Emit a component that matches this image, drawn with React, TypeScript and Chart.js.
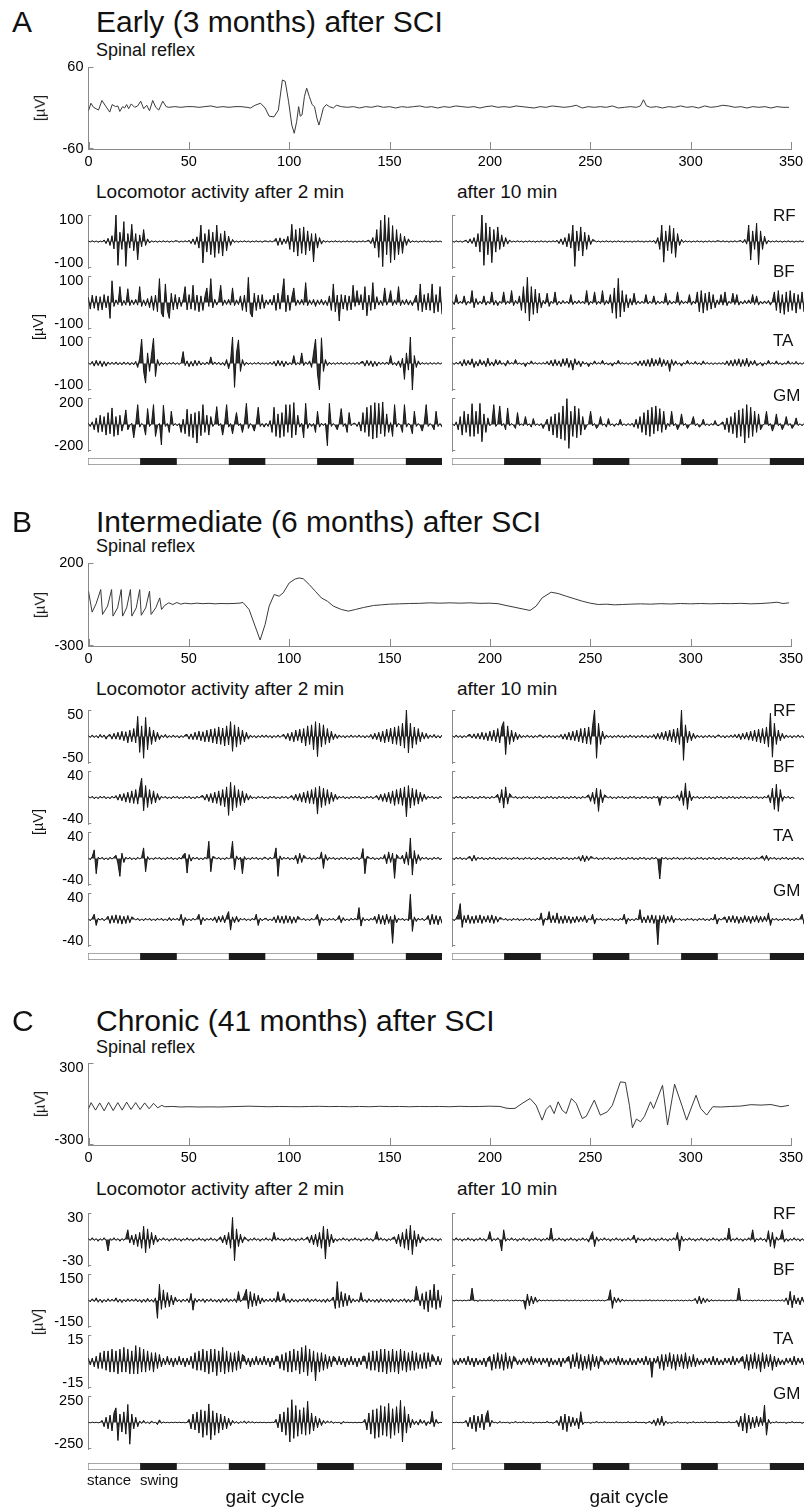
import React, { useEffect, useRef } from "react";
import { Chart, registerables } from "chart.js";

Chart.register(...registerables);

const FONT = "'Liberation Sans', Arial, Helvetica, sans-serif";
const AXIS = "#8a8a8a";

// ---------------- Spinal reflex traces: [time ms, µV] ----------------
const X_TICKS = [0, 50, 100, 150, 200, 250, 300, 350];

const REFLEX_A = [
  [0, -4], [1.2, 7], [2.5, 1], [5, -3], [6.7, 11], [8.5, 3], [10.6, -6], [11.8, 5], [13.5, 2], [14.6, 3],
  [15.6, -5], [17, 2], [18, 0], [19, 5], [20, -1], [21.3, 6], [23, 1], [24.5, 3], [26, 10], [27.5, -1],
  [29, 4], [30.4, -4], [32, 11], [33.5, 1], [35, -3], [37, 10], [38.7, 2], [40, 1], [43, 2], [46, 1],
  [49, 2], [52, 2], [55, 1], [58, 2], [61, 3], [64, 1], [67, 2], [70, 1], [73, 2], [76, 2],
  [79, 1], [80.7, 0], [83, 4], [85.7, 7], [88, 0], [90, -12], [92.4, -13], [94.6, -3], [96.6, 41], [98, 39],
  [99.7, 9], [101.3, -25], [102.5, -37], [103.7, -20], [104.7, 2], [105.5, -12], [106.4, -10], [107.6, 17], [108.7, 29], [110, 17],
  [111.4, 5], [112.6, 2], [113.8, -15], [114.8, -25], [116, -12], [117, 0], [118.5, 5], [120, 2], [122, 0], [123.5, 4],
  [126, 2], [129, 1], [132, 2], [135, 0], [138, 2], [141, 1], [144, 3], [147, 1], [150, 2], [153, 0],
  [156, 2], [159, 1], [162, 2], [165, 3], [168, 1], [171, 2], [174, 0], [177, 2], [180, 1], [183, 3],
  [186, 2], [189, 1], [192, 2], [195, 0], [198, 2], [201, 3], [204, 1], [207, 2], [210, 1], [213, 3],
  [216, 2], [219, 1], [222, 0], [225, 2], [228, 1], [231, 3], [234, 2], [237, 1], [240, 2], [243, 4],
  [246, 0], [249, 2], [252, 1], [255, 2], [258, 1], [261, 3], [264, 0], [267, 1], [270, 2], [273, 1],
  [275, 3], [276.5, 12], [278, 3], [280, 1], [283, 2], [286, 0], [289, 2], [292, 1], [295, 3], [298, 1],
  [301, 2], [304, 0], [307, 3], [310, 1], [313, 2], [316, 4], [319, 3], [322, 1], [325, 2], [328, 0],
  [331, 2], [334, 1], [337, 2], [340, 0], [343, 2], [346, 1], [349, 1],
];

const REFLEX_B = [
  [0, 30], [1.8, -96], [3.8, -45], [6.1, 40], [7, -110], [9.5, -60], [11.5, 40], [12.2, -120], [14.5, -70], [16.3, 40],
  [17, -120], [19, -70], [20.9, 40], [21.6, -120], [23.8, -70], [25.5, 40], [26.3, -115], [28.5, -70], [30.4, 30], [31.2, -110],
  [33.5, -70], [35.5, -10], [36.4, -80], [38, -55], [40, -40], [42, -50], [44, -38], [46, -48], [48, -42], [51, -46],
  [54, -42], [57, -45], [60, -43], [63, -46], [66, -44], [69, -45], [72, -44], [75, -42], [77, -38], [80, -80],
  [83, -180], [85.5, -264], [88, -170], [90, -60], [92.5, 10], [95, 0], [97, 20], [100, 80], [103, 104], [105, 110],
  [107, 105], [110, 70], [113, 30], [116, -10], [119, -30], [122, -60], [126, -80], [129.5, -90], [133, -80], [137, -68],
  [142, -56], [146, -52], [150, -48], [155, -46], [160, -44], [165, -43], [170, -40], [175, -42], [180, -40], [185, -42],
  [190, -40], [195, -43], [200, -42], [204, -45], [208, -56], [212, -66], [216, -76], [220, -86], [223, -60], [226, -10],
  [230.5, 24], [234, 16], [238, 0], [242, -15], [246, -30], [250, -42], [254, -50], [258, -48], [262, -52], [266, -50],
  [270, -48], [275, -46], [280, -48], [285, -45], [290, -47], [295, -44], [300, -46], [305, -44], [310, -46], [315, -44],
  [320, -45], [325, -43], [330, -46], [335, -44], [340, -40], [343, -36], [346, -44], [349, -40],
];

const REFLEX_C = [
  [0, -35], [1.3, 10], [3.5, -45], [5.6, 8], [7.8, -50], [10, 12], [12.3, -48], [14.6, 10], [16.8, -45], [19, 14],
  [21.2, -40], [23.5, 10], [25.7, -40], [28, 8], [30.2, -35], [32.4, 5], [34.5, -28], [36.5, -10], [38, -20], [42, -18],
  [46, -22], [50, -20], [55, -22], [60, -21], [65, -22], [70, -20], [75, -18], [80, -16], [85, -18], [90, -20],
  [95, -18], [100, -19], [105, -20], [110, -18], [115, -17], [120, -19], [125, -18], [130, -20], [135, -18], [140, -20],
  [145, -17], [150, -19], [155, -18], [160, -20], [165, -18], [170, -19], [175, -18], [180, -20], [185, -17], [190, -19],
  [195, -18], [200, -16], [205, -18], [208, -30], [210, -33], [212.5, -32], [216, 4], [220, 40], [223, -9], [226, -118],
  [228, -40], [230, -10], [232, -70], [234, 16], [236, -45], [238, -70], [240.6, 40], [243, 4], [246, -106], [248, -90],
  [252, 28], [255, -82], [258.5, -57], [261, -9], [265, 162], [267.5, 157], [269.5, -10], [271, -174], [273, -110], [275, -130],
  [277, -90], [280, 16], [281.5, -33], [286, 137], [288.5, -154], [292, 145], [295.6, -9], [298, -118], [302.7, 64], [305, -33],
  [308, -81], [311, -20], [315, -22], [320, -18], [325, -15], [330, -5], [335, -8], [340, -4], [345, -20], [349, -10],
];

const REFLEX_A_TICKS = [-60, 60];
const REFLEX_B_TICKS = [-300, 200];
const REFLEX_C_TICKS = [-300, 300];

// ---------------- EMG traces (µV), 4 gait cycles, 45 samples per cycle ----------------
const MUSCLES = ["RF", "BF", "TA", "GM"];
const A_LIMITS = [100, 100, 100, 200];
const B_LIMITS = [50, 40, 40, 40];
const C_LIMITS = [30, 150, 15, 250];

const A_RF_2 = [
  2,-2,3,-2,2,-3,2,-2,6,-8,12,-15,22,-28,100,-90,35,-30,75,-94,30,-25,65,-35,30,-69,25,-20,45,-15,10,-6,3,-2,2,-3,2,-2,3,-2,2,-3,2,-2,3,
  2,-3,2,-2,3,-2,5,-8,10,-12,18,-25,62,-81,30,-40,45,-50,35,-60,62,-45,30,-55,40,-35,20,-15,8,-4,2,-3,2,-2,3,-2,2,-3,2,-2,3,-2,2,-3,2,
  2,-2,3,-2,2,12,-15,14,-12,10,-8,20,-30,65,-40,45,-55,50,-45,55,-50,40,-35,30,-77,30,-25,15,-10,5,-3,2,-3,2,-2,3,-2,2,-3,2,-2,3,-2,2,-3,
  2,-3,2,-2,3,-2,2,5,-8,15,-25,45,-60,80,-95,100,-50,90,-80,60,-70,45,-50,30,-45,20,-15,10,-5,3,-2,2,-3,2,-2,3,-2,2,-3,2,-2,3,-2,2,-2,
];
const A_BF_2 = [
  20,-25,28,-22,25,-30,22,-28,30,-20,25,-60,82,-15,10,-8,60,-12,8,-10,52,-12,10,-8,12,-10,60,-15,10,-12,15,-20,25,-30,28,-35,90,-40,-55,70,-30,-60,35,-28,30,
  -25,20,-15,12,60,-28,30,-25,65,-30,28,-35,25,-30,22,55,-15,90,-20,12,-10,8,65,-12,10,-8,12,-10,55,-12,10,-8,25,-30,28,-35,95,-40,-55,35,-30,28,-25,30,-22,
  10,-8,12,-10,28,-30,35,-25,30,90,-35,28,-30,20,55,-12,10,-8,12,-10,75,-12,10,-8,12,-15,10,-8,12,-10,8,-12,25,-30,70,-35,28,-70,30,-25,28,-30,25,-28,65,
  -15,45,-10,30,-28,60,-50,28,-30,75,-25,22,-10,8,-12,55,-10,8,45,-12,10,-8,60,-12,10,-8,12,-10,8,-12,10,28,-30,70,-35,30,-28,35,-30,70,-40,30,-35,60,-45,
];
const A_TA_2 = [
  3,-4,8,-10,12,-8,10,-12,8,-10,6,-4,5,-4,6,-5,4,-5,6,-4,5,-6,4,-5,8,-15,20,92,-30,-74,40,-30,35,95,-49,15,-8,5,-4,3,-4,4,-3,5,-4,
  3,-4,4,45,-8,10,-12,8,-10,12,-8,10,-6,4,-5,6,-4,25,-5,6,-4,5,-6,4,-8,15,-20,10,100,-90,40,89,-30,15,-8,5,-4,3,-4,4,-3,5,-4,3,-3,
  3,-4,5,-4,8,-10,12,-8,10,-12,8,-6,4,-5,30,-6,4,-5,40,-8,6,-4,10,-15,40,92,-40,-100,97,-30,15,-8,5,-4,3,-4,4,-3,5,-4,3,-4,4,-3,3,
  -4,5,-4,6,8,-10,12,-8,10,-12,8,-10,6,-4,5,-4,6,-5,30,-6,4,-8,10,-15,20,-60,40,-25,100,-100,30,-15,10,-5,4,-3,3,-4,4,-3,3,-3,4,-3,3,
];
const A_GM_2 = [
  10,-15,20,-40,50,-60,70,-55,60,-80,90,-70,125,-90,60,-80,70,-50,10,110,-40,-8,10,-100,5,150,-20,8,-6,-80,120,-15,8,150,-90,-10,8,-155,145,-15,8,-60,100,-10,8,
  -10,8,-60,40,-70,115,-90,80,-100,90,-140,100,-85,150,-60,70,-80,60,-15,8,135,-10,8,-80,10,150,-20,8,-70,10,90,-10,8,-60,10,160,-30,8,-10,-50,10,130,-15,8,-20,
  10,-15,30,-60,130,-90,80,-100,90,-90,150,-60,150,-100,165,-80,70,-20,10,-100,160,-30,10,-15,8,-60,100,-20,10,-8,10,-160,160,-15,8,-10,-40,10,120,-15,8,-60,90,-10,8,
  10,-15,20,-50,90,-60,130,-90,145,-110,165,-100,160,-70,170,-90,80,-60,15,-90,150,-20,10,-8,-60,150,-20,10,-8,-70,100,-15,8,-10,-50,10,150,-15,8,-10,-40,100,-15,8,-20,
];
const A_RF_10 = [
  2,-3,3,-2,2,-3,2,5,-6,10,-8,15,-20,30,-40,100,-90,70,-50,55,-80,45,-40,55,-30,25,-20,15,-10,6,-3,2,-2,3,-2,2,-3,2,-2,3,-2,2,-3,2,-2,
  3,-2,2,-3,2,-2,3,-2,5,-8,10,-12,15,-20,30,-25,62,-94,40,-35,55,-55,35,-30,25,-12,8,4,-2,2,-3,2,-2,3,-2,2,-3,2,-2,3,-2,2,-3,2,-2,
  2,-3,2,-2,3,-2,2,-3,2,-2,3,-2,4,-8,15,-30,62,-78,40,-35,60,-45,50,-60,30,-15,8,-4,3,-2,2,-3,2,-2,3,-2,2,-3,2,-2,3,-2,2,-2,3,
  2,-2,3,-2,2,-3,2,-2,3,-2,2,4,-5,8,-10,62,-70,40,-30,69,-87,40,-30,20,-10,5,-3,2,-2,3,-2,2,-3,2,-2,3,-2,2,-3,2,-2,3,-2,2,-2,
];
const A_BF_10 = [
  5,-8,30,-6,5,-4,25,-10,5,-4,45,-20,15,-8,5,-6,25,-10,5,-6,40,-10,8,-12,5,-4,40,-8,6,-5,45,-12,8,-6,25,-30,60,-40,95,-70,60,-45,50,-40,35,
  -20,8,-6,35,-15,5,-4,40,-10,5,-6,8,-4,5,-6,30,-8,6,-5,8,-4,5,-6,45,-10,5,-4,40,-8,5,-6,45,-10,8,-6,30,-40,55,-60,91,-55,45,-35,30,-20,
  15,-10,35,-8,6,-5,5,-4,30,-6,5,-4,25,-8,6,-5,5,-4,35,-10,8,-6,5,-4,40,-10,8,-5,5,-4,30,-10,6,-5,40,-35,45,-40,35,-30,40,-25,30,-20,10,
  -8,30,-10,40,-12,5,-4,35,-8,30,-10,5,-6,8,-5,10,-5,30,-8,25,-10,5,-6,6,-5,8,-10,5,40,-30,45,-40,30,-45,40,-35,45,-30,35,-40,30,-25,40,-35,30,
];
const A_TA_10 = [
  3,-4,5,-3,8,-10,15,-8,12,-6,18,-15,8,-10,15,-6,10,-12,20,-8,6,-10,15,-6,12,-4,3,-10,12,-3,4,-3,15,-4,3,-5,3,-12,4,-3,10,-3,4,-3,3,
  -3,4,-3,8,-6,12,-10,15,-8,10,-12,18,-8,20,-15,12,-25,18,-6,10,-12,8,-3,4,-12,3,-4,10,-3,4,-3,12,-4,3,-6,3,-10,4,-3,12,-3,4,-3,3,-4,
  3,-4,3,6,-8,10,-8,12,-10,15,-12,20,-10,15,-8,22,-12,15,-8,12,-30,15,-8,10,-4,3,-10,4,-3,12,-3,4,-3,8,-4,3,-6,10,-3,4,-3,3,-4,3,-3,
  3,-3,4,-5,10,-8,12,-10,15,-8,18,-12,15,-10,20,-12,10,-6,12,-8,-3,4,-10,3,-4,12,-3,4,-3,10,-4,3,-6,3,-3,10,-3,4,-3,8,-4,3,-3,4,-3,
];
const A_GM_10 = [
  8,-10,20,-40,60,-80,100,-60,80,-90,157,-90,100,-70,160,-130,80,-60,50,-10,8,150,-15,8,140,-10,8,-40,125,-10,8,-8,-30,90,-8,6,-10,60,-8,6,-20,45,-8,6,-10,
  8,-30,6,40,-50,60,-80,80,-100,90,-110,140,-120,195,-180,100,-90,140,-100,120,-80,60,-40,-10,8,100,-10,8,-30,-8,60,-8,6,-20,45,-8,6,-15,8,-6,40,-8,6,-10,8,
  -8,10,-20,40,-30,60,-60,90,-80,110,-90,130,-70,140,-50,120,-60,100,-40,10,-15,100,-10,8,-40,-8,80,-8,8,-30,-6,10,60,-10,8,-20,-6,40,-8,6,-10,8,-6,30,-8,
  -8,10,20,-40,50,-60,60,-70,90,-100,110,-90,120,-140,150,-100,130,-90,100,-60,80,-40,-10,8,100,-10,8,-50,-8,80,-10,8,-40,-6,60,-8,8,-30,-6,50,-8,6,-10,8,-6,
];

const B_RF_2 = [
  2,-2,3,-2,2,-3,4,-2,3,-5,2,4,-5,6,-5,8,-6,10,-8,9,-12,12,-10,15,-12,38,-30,20,-41,36,-25,18,-15,12,-10,8,-6,3,-2,4,-3,2,-2,3,-2,
  2,-3,2,-2,3,4,-5,5,-6,8,-6,10,-8,9,-10,12,-10,14,-12,15,-14,18,-15,16,-18,20,-16,28,-28,22,-20,18,-15,12,-10,8,-5,3,-2,2,-3,2,-2,3,-2,
  3,-2,2,-3,2,-2,3,-2,2,4,-5,6,-8,8,-10,12,-8,14,-12,15,-18,20,-15,22,-25,28,-38,25,-20,22,-15,15,-12,10,-6,5,-4,3,-2,2,-3,2,-2,3,-2,
  2,-2,3,-2,2,-3,2,-2,4,-5,6,-6,8,-10,10,-12,14,-10,16,-14,18,-15,20,-18,25,-22,50,-31,25,-22,18,-15,15,-10,8,-5,6,-4,3,-2,4,-3,2,-3,3,
];
const B_BF_2 = [
  2,-1,2,-2,1,-2,2,-1,2,-2,1,-2,2,-1,3,-4,5,-5,6,-7,8,-8,10,-9,12,-10,14,29,-20,18,-15,12,-10,10,-8,6,-4,2,-1,2,-2,1,-2,2,-1,
  2,-2,1,-2,2,-1,2,-2,1,-2,2,-1,2,3,-4,5,-6,6,-8,8,-9,10,-12,12,-14,16,-27,23,-20,18,-15,12,-12,10,-8,6,-4,3,-2,1,-2,2,-1,2,-2,
  1,-2,2,-1,2,-2,1,-2,2,-1,2,-2,1,3,-4,5,-5,6,-7,8,-8,10,-9,12,-10,15,-25,17,-15,14,-12,12,-10,8,-6,5,-3,2,-1,2,-2,1,-2,2,-1,
  2,-1,2,-2,1,-2,2,-1,2,-2,1,3,-4,5,-6,6,-7,8,-9,10,-12,12,-10,14,-12,16,-29,18,-16,14,-12,12,-10,8,-6,5,-3,2,-1,2,-2,1,-2,2,-1,
];
const B_TA_2 = [
  1,-2,3,13,-23,2,-1,2,-2,1,-2,2,-1,2,5,-8,-27,8,-6,2,-1,2,-2,1,-2,2,-1,2,16,-20,3,-2,1,-2,2,-1,2,-2,1,-2,2,-1,2,-2,1,
  -2,2,-1,5,8,-22,6,-4,2,-1,2,-2,1,-2,2,-1,26,-20,3,2,-1,2,-2,1,-2,2,-1,2,26,-17,4,-2,2,-23,3,-2,1,-2,2,-1,2,-2,1,-2,2,
  1,-2,2,-1,2,16,-27,4,-2,2,-1,2,-2,1,-2,5,-8,8,-6,5,2,-1,2,-2,1,-2,2,-1,10,-15,6,-3,2,-1,2,-2,1,-2,2,-1,2,-2,1,-2,2,
  -1,2,-2,1,15,-23,3,2,-1,2,-2,1,-2,2,-1,6,-8,10,-6,8,-30,6,2,-1,5,-8,10,-10,31,-25,12,-8,6,-3,2,-1,2,-2,1,-2,2,-1,2,-2,1,
];
const B_GM_2 = [
  1,-2,2,8,-9,2,-1,2,-2,1,5,-6,6,-5,7,-6,6,-7,5,-6,6,-5,4,2,-1,2,-2,1,-2,2,-1,2,-2,1,-2,2,-1,2,-2,1,-2,3,-2,2,-1,
  2,-2,8,-9,3,-2,1,-2,2,-1,2,8,-8,3,-2,2,-1,2,-2,4,-5,5,-4,6,-5,5,12,-16,4,-5,5,-4,2,-1,2,-2,1,-2,2,-1,8,-9,2,-2,1,
  2,-2,1,-2,4,-5,6,-5,5,-6,6,-5,5,-6,4,-5,5,2,-1,2,-2,1,-2,2,-1,2,8,-9,3,-2,1,-2,2,-1,2,-2,1,6,-5,3,-2,1,-2,2,-1,
  2,-1,18,-10,3,-2,1,-2,2,-1,5,-6,8,-7,6,-8,8,-6,5,-36,7,-5,2,-1,2,-2,1,-2,38,-18,4,-3,2,-1,2,-2,1,6,-8,8,-7,6,-8,5,-6,
];
const B_RF_10 = [
  2,-2,3,-2,2,-3,2,-2,3,4,-3,5,-4,6,-5,8,-6,7,-8,10,-8,12,-10,15,-12,18,28,-34,20,-15,12,-10,8,-6,4,-3,2,-2,3,-2,2,-3,2,-2,3,
  2,-3,2,-2,3,-2,2,-3,2,-2,4,-5,5,-6,8,-7,10,-8,12,-10,15,-12,16,-14,18,-15,20,50,-41,25,-15,10,-5,3,-2,2,-3,2,-2,3,-2,2,-3,2,-2,
  3,-2,2,-3,2,-2,3,-2,2,-3,2,-2,4,-5,6,-5,8,-6,10,-8,12,-10,14,-12,16,-15,50,-45,22,-12,10,-8,6,-4,3,-2,2,-3,2,-2,3,-2,2,-3,2,
  3,-2,2,-3,2,-2,3,-2,4,-3,5,-6,6,-5,8,-7,10,-8,12,-10,14,-12,15,-14,18,-20,44,-39,25,-15,12,-8,6,-4,3,-2,2,-3,2,-2,3,-2,2,-3,2,
];
const B_BF_10 = [
  1,-2,2,-1,2,-2,1,-2,2,-1,2,-2,1,-2,2,-1,2,-2,1,-2,2,-1,2,5,-8,12,-16,16,-10,6,2,-1,2,-2,1,-2,2,-1,2,-2,1,-2,2,-1,2,
  -2,1,-2,2,-1,2,-2,1,-2,2,-1,2,-2,1,-2,2,-1,2,-2,1,-2,2,-1,2,4,-6,8,-10,14,-21,12,-8,4,2,-1,2,-2,1,-2,2,-1,2,-2,1,-2,
  2,-1,2,-2,1,-2,2,-1,2,-2,1,-2,2,-1,2,-12,2,-1,2,-2,1,-2,2,-1,4,-5,10,-12,22,-18,10,-5,2,-1,2,-2,1,-2,2,-1,2,-2,1,-2,2,
  -1,2,-2,1,-2,2,-1,2,-2,1,-2,2,-1,2,-2,1,-2,2,-1,2,-2,1,-2,2,-1,4,-8,14,-18,20,-21,12,-6,2,-1,2,-2,1,-2,null,null,null,null,null,null,
];
const B_TA_10 = [
  1,-2,2,-1,2,-2,1,-2,2,3,-4,5,-3,2,-1,2,-2,1,-2,2,-1,2,-2,1,-2,2,-1,2,-2,1,-2,2,-1,2,-2,1,-2,2,-1,2,-2,1,-2,2,-1,
  -1,2,-2,1,-2,2,-1,2,-2,1,-2,2,-1,2,-2,1,-2,2,-1,3,-4,5,-5,4,-3,3,2,-1,2,-2,1,-2,2,-1,2,-2,1,-2,2,-1,2,-2,1,-2,2,
  -1,2,-2,1,-2,2,-1,2,-2,1,-2,2,-1,2,-2,-31,2,-1,2,-2,1,-2,2,-1,2,-2,1,-2,2,-1,2,-2,1,-2,2,-1,2,-2,1,-2,2,-1,2,-2,1,
  -2,2,-1,2,-2,1,-2,2,-1,2,-2,1,-2,2,-1,2,-2,1,-2,2,-1,2,4,-3,5,-3,2,-1,2,-2,1,-2,2,-1,2,-2,1,-2,2,-1,2,-2,1,-2,2,
];
const B_GM_10 = [
  1,-2,2,8,24,-12,6,-5,7,-6,5,-6,6,-5,7,-6,5,-4,6,-5,7,-6,5,-4,3,2,-1,2,-2,1,-2,2,-1,2,-2,1,-2,2,-1,2,-2,1,-2,2,-1,
  10,-9,2,-1,12,-5,6,-5,10,-6,5,-6,6,-5,5,-6,4,-5,5,-4,4,-3,6,-5,2,-1,8,-7,2,-1,2,-2,1,-2,2,-1,2,-2,1,-2,2,-1,8,-7,2,
  -2,1,-2,2,-1,15,-5,4,-5,6,-5,7,-6,6,-38,6,-5,7,-6,5,-4,6,-5,2,-1,2,-2,1,-2,2,-1,2,-2,1,-2,2,-1,2,-2,1,-2,2,-1,8,-7,
  2,-1,2,4,-5,5,-4,6,-5,5,-6,4,-5,6,-4,5,-6,5,-4,6,-5,5,-4,5,-3,10,-9,2,-1,2,-2,1,-2,2,-1,2,-2,1,-2,2,-1,2,8,-7,2,
];

const C_RF_2 = [
  1,-1,2,-1,1,-2,1,-1,2,-1,-13,1,-1,2,-1,1,-2,1,-1,2,11,-4,5,-6,6,-8,8,-10,15,-15,12,-10,8,-6,5,-3,1,-1,2,-1,1,-2,1,-1,2,
  -1,1,-2,1,-1,2,-1,1,-2,1,-1,2,-1,1,-2,1,-1,2,-1,1,-2,1,3,-4,5,-6,8,-10,25,-24,12,-8,6,-4,3,1,-2,1,-1,2,-1,1,-2,1,-1,
  2,-1,1,-2,8,-1,2,-1,1,-2,1,-1,2,-1,1,-2,1,-1,2,-1,1,3,-4,5,-6,6,-8,8,-10,15,-22,12,-8,6,-4,1,-2,1,-1,2,-1,1,-2,1,-1,
  2,-1,1,-2,1,-1,2,-1,1,-2,1,9,-1,2,-1,1,-2,1,-1,2,3,-5,6,-8,8,-10,12,-12,16,-17,10,-8,6,-4,3,1,-2,1,-1,2,-1,1,-2,1,-1,
];
const C_BF_2 = [
  5,-8,10,-6,15,-10,8,-12,6,-8,10,-6,8,-5,15,-10,8,-12,6,-8,10,-6,8,-5,10,-8,6,-12,8,-10,12,-8,6,-10,15,-101,92,-50,60,-40,45,-35,30,-25,20,
  -8,6,-10,8,-6,10,-12,40,-55,12,-10,8,-6,10,-12,8,-6,10,-8,6,-10,8,-12,10,-8,12,-10,8,-6,10,-12,50,-8,6,30,64,-46,50,-35,40,-30,30,-20,15,-10,
  8,-6,10,-8,12,-10,50,-8,6,40,-10,8,-12,10,-8,6,-10,8,-6,10,-8,12,-10,8,-6,10,-8,6,-10,8,-12,10,-8,6,20,-46,107,-40,50,-35,40,-30,30,-15,10,
  -8,6,-10,45,-8,6,-12,10,-8,6,-10,8,-12,10,-8,6,-10,8,-12,10,-8,6,-10,8,-6,10,-12,8,-10,6,-8,80,20,-30,40,-50,50,-64,60,-40,92,-50,60,-40,30,
];
const C_TA_2 = [
  2,-2,2,-3,3,-4,5,-4,6,-5,6,-6,7,-6,6,-7,7,-6,8,-6,7,-7,6,-7,9,-7,8,-6,7,-6,6,-5,5,-6,5,-4,4,-3,2,-2,3,-2,2,-3,2,
  -2,3,-2,2,-3,2,-2,3,-4,5,-5,6,-5,7,-6,6,-7,7,-6,7,-8,6,-6,8,-7,6,-6,5,-6,5,-5,6,-4,4,3,-2,2,-3,2,-2,3,-2,2,-2,3,
  -2,2,-3,2,-2,3,3,-4,4,-5,5,-6,6,-6,7,-5,6,-7,8,-6,9,-8,7,-6,6,-11,5,-6,5,-5,4,-4,3,-3,3,2,-2,3,-2,2,-3,2,-2,3,-2,
  2,-3,2,-2,3,3,-4,5,-5,6,-5,6,-6,7,-6,7,-7,6,-6,7,-6,6,-7,7,-5,6,-6,5,-5,6,-5,5,-4,4,-4,5,-4,5,-3,4,2,-2,3,-2,2,
];
const C_GM_2 = [
  2,-3,3,-2,2,-3,2,20,-40,50,-60,70,-80,90,138,-170,80,-90,100,-110,170,-205,80,-60,50,-40,15,-10,20,-8,5,-12,15,-5,3,-20,25,-8,5,-3,2,-3,2,-2,3,
  -2,3,-2,2,-3,2,30,-60,80,-70,100,-100,120,-140,110,-120,175,-163,110,-120,90,-100,80,-70,60,-60,40,-30,20,-8,10,-12,8,-3,15,-10,12,-3,8,-5,3,-2,3,-2,2,
  -3,2,-2,3,-2,30,-50,80,-90,100,-120,140,-184,215,-150,160,-130,120,-110,140,-120,200,-110,90,-80,60,-50,40,-30,20,-10,15,-3,12,-8,3,-2,3,-15,10,-2,3,-2,2,-3,
  2,-3,2,-2,3,30,-70,90,-110,120,-150,130,-140,160,-120,150,-130,180,-150,130,-120,150,-100,209,-184,150,-100,80,-50,30,-20,15,-25,30,-10,20,-30,10,-15,107,-40,30,-10,3,-2,
];
const C_RF_10 = [
  1,-1,2,-1,1,-2,1,-1,2,-1,1,-2,1,-1,2,-1,1,-2,1,9,-2,1,-1,2,-1,-13,11,-2,1,-1,2,-1,1,-2,1,-1,2,-1,1,-2,1,-1,2,-1,1,
  -2,1,-1,2,-1,13,-2,1,-1,2,-1,1,-2,1,-1,2,-1,1,-2,1,-1,2,-1,1,-3,4,9,-8,3,-2,1,-1,2,-1,1,-2,1,-1,2,-1,1,-2,1,-1,2,
  -1,1,5,-4,2,-1,1,-2,1,-1,2,-1,1,-2,1,-1,2,-1,1,-2,1,-1,2,-1,8,-13,4,-2,1,-1,2,-1,1,-2,1,-1,2,-1,1,-2,1,-1,2,-1,1,
  -2,1,-1,2,-1,13,-2,1,-1,2,-1,1,-2,1,-1,2,-1,11,-3,1,-1,2,-1,1,-3,10,-8,8,-10,3,-1,2,11,-3,1,-2,1,-1,2,-1,1,-2,1,-1,2,
];
const C_BF_10 = [
  2,-3,3,-2,2,-3,2,-2,3,-2,70,-3,2,-5,4,-3,2,-2,3,-2,5,-4,2,-3,2,-2,3,-2,4,-3,2,-2,3,-2,2,-3,2,-50,37,-30,25,-20,20,-10,5,
  -3,2,-2,3,-2,2,-3,2,-2,3,-2,2,-3,4,-3,2,-2,3,-2,2,-3,2,-2,3,-2,2,-3,2,-2,3,-2,2,-3,2,8,61,-45,20,-12,15,-10,8,-4,3,-2,
  2,-3,3,-2,2,-3,2,-2,3,-2,4,-3,2,-2,3,-2,2,-3,3,-2,2,-3,2,-2,3,-2,2,-3,2,-2,3,-2,2,12,-18,25,-20,15,-12,10,-8,5,-3,2,-2,
  3,-2,2,-3,2,-2,3,-2,2,-3,70,-3,2,-2,3,-2,2,-3,2,-2,3,-2,2,-3,2,-2,3,-2,2,-3,3,-2,4,-6,15,-25,52,-41,30,-20,15,-25,20,-10,8,
];
const C_TA_10 = [
  2,-2,1,-2,2,-1,2,-2,3,-2,2,-3,2,-2,1,-2,2,-3,2,3,-5,4,-4,5,-4,4,-5,5,-4,3,-4,3,2,-2,1,-2,2,-1,2,-2,3,-2,2,-1,2,
  -2,2,-1,2,-3,2,-2,1,-2,2,-3,2,-1,2,3,-4,4,-3,5,-4,4,-5,3,-4,4,-5,4,-3,3,-4,3,2,-2,1,-2,2,-1,2,-2,3,-2,2,-2,1,-2,
  2,-2,1,-2,2,-1,2,-2,3,-2,2,-9,2,-1,3,-4,4,-5,4,-3,5,-4,4,-5,4,-3,4,-4,5,-4,3,-3,4,-3,2,-2,1,-2,2,-1,2,-2,3,-2,2,
  -2,1,-2,2,-1,2,-2,3,-2,2,-1,2,3,-4,4,-5,4,-4,5,-4,4,-6,5,-4,4,-3,4,-5,3,-3,2,-2,1,-2,2,-1,2,-2,3,-2,2,-1,2,-2,2,
];
const C_GM_10 = [
  2,-2,3,-2,2,-3,2,20,-40,50,-60,70,-86,60,-50,80,-70,60,113,-40,20,-3,2,-8,10,-3,2,-2,3,-8,2,-2,10,-3,2,-2,8,-3,2,-2,3,-8,2,-2,2,
  -3,2,-2,10,-3,2,-8,3,20,-30,60,-70,80,-86,60,-40,50,-30,40,-60,102,-20,3,-2,2,-8,3,-2,10,-3,2,-2,8,-3,2,-2,2,-3,8,-2,2,-3,2,-2,8,
  -3,2,-2,8,-3,2,-2,3,-8,2,10,-15,25,-30,40,-25,60,-30,15,-10,2,-8,3,-2,8,-3,2,-2,3,-8,2,-2,8,-3,2,-2,3,-2,8,-3,2,-2,2,-3,8,
  -2,2,-3,2,-2,8,-3,2,-2,20,-40,60,-80,86,-100,70,-60,50,-50,60,-40,50,-30,165,-120,30,-10,3,-2,8,-3,2,-2,3,-8,2,-2,8,-3,2,-2,3,-8,2,-2,
];

// gait cycle phases (fraction of a cycle)
const GAIT_LABELS = ["stance", "swing", "stance", "swing", "stance", "swing", "stance", "swing"];
const GAIT_PHASES = [0.59, 0.41, 0.59, 0.41, 0.59, 0.41, 0.59, 0.41];

// ---------------- layout ----------------
const PANELS = [
  {
    letter: "A", title: "Early (3 months) after SCI", titleTop: 7, spinalTop: 41,
    reflex: REFLEX_A, reflexTicks: REFLEX_A_TICKS, reflexTop: 67, reflexH: 82, reflexInset: false,
    locoTop: 182, rows: [215, 276, 337, 398], emgUnitY: 327, gaitTop: 458,
    limits: A_LIMITS, left: [A_RF_2, A_BF_2, A_TA_2, A_GM_2], right: [A_RF_10, A_BF_10, A_TA_10, A_GM_10],
  },
  {
    letter: "B", title: "Intermediate (6 months) after SCI", titleTop: 507, spinalTop: 537,
    reflex: REFLEX_B, reflexTicks: REFLEX_B_TICKS, reflexTop: 563, reflexH: 83, reflexInset: false,
    locoTop: 679, rows: [710, 771, 832, 893], emgUnitY: 822, gaitTop: 953,
    limits: B_LIMITS, left: [B_RF_2, B_BF_2, B_TA_2, B_GM_2], right: [B_RF_10, B_BF_10, B_TA_10, B_GM_10],
  },
  {
    letter: "C", title: "Chronic (41 months) after SCI", titleTop: 1006, spinalTop: 1038,
    reflex: REFLEX_C, reflexTicks: REFLEX_C_TICKS, reflexTop: 1063, reflexH: 82, reflexInset: true,
    locoTop: 1179, rows: [1213, 1274, 1335, 1396], emgUnitY: 1322, gaitTop: 1463,
    limits: C_LIMITS, left: [C_RF_2, C_BF_2, C_TA_2, C_GM_2], right: [C_RF_10, C_BF_10, C_TA_10, C_GM_10],
  },
];
const MUSCLE_DY = [0, -5, 3, -3];
const ROW_H = 53;

// inward tick marks (MATLAB "TickDir in")
const inTicks = {
  id: "inTicks",
  afterDraw(chart: any, _args: any, opts: any) {
    const ctx = chart.ctx;
    ctx.save();
    ctx.strokeStyle = AXIS;
    ctx.lineWidth = 1;
    for (const key of ["x", "y"]) {
      const len = opts && opts[key];
      const sc = chart.scales[key];
      if (!len || !sc || !sc.options.display) continue;
      for (const t of sc.ticks) {
        const p = sc.getPixelForValue(t.value);
        ctx.beginPath();
        if (sc.isHorizontal()) {
          const px = Math.round(p) + 0.5;
          ctx.moveTo(px, sc.top);
          ctx.lineTo(px, sc.top - len);
        } else {
          const py = Math.round(p) - 0.5 + (t.value === sc.min ? 0 : 1);
          ctx.moveTo(sc.right, py);
          ctx.lineTo(sc.right + len, py);
        }
        ctx.stroke();
      }
    }
    ctx.restore();
  },
};

const labelFor = (v: number, lo: number, hi: number, inset: boolean) => {
  const s = String(v);
  if (!inset) return s;
  if (v === hi) return ["", s];
  if (v === lo) return [s, ""];
  return s;
};

const noPadY = (w: number) => (s: any) => {
  s.width = w;
  s.paddingTop = 0;
  s.paddingBottom = 0;
};

function reflexConfig(points: number[][], ticks: number[], inset: boolean) {
  const [lo, hi] = ticks;
  return {
    type: "line",
    data: {
      datasets: [{
        data: points.map(([x, y]) => ({ x, y })),
        borderColor: "#3a3a3a", borderWidth: 1, pointRadius: 0, tension: 0,
      }],
    },
    options: {
      animation: false, responsive: false, events: [],
      layout: { padding: { top: 10, right: 13, bottom: 0, left: 0 } },
      plugins: { legend: { display: false }, tooltip: { enabled: false }, inTicks: { x: 7, y: 5 } },
      scales: {
        x: {
          type: "linear", min: 0, max: 350,
          afterBuildTicks: (s: any) => { s.ticks = X_TICKS.map((v) => ({ value: v })); },
          afterFit: (s: any) => { s.height = 28; s.paddingLeft = 0; s.paddingRight = 0; },
          grid: { display: false, drawTicks: false },
          border: { display: true, color: AXIS, width: 1 },
          ticks: { color: "#000", font: { family: FONT, size: 14.5 }, padding: 4, maxRotation: 0, autoSkip: false, callback: (v: any) => String(v) },
        },
        y: {
          type: "linear", min: lo, max: hi,
          afterBuildTicks: (s: any) => { s.ticks = ticks.map((v) => ({ value: v })); },
          afterFit: noPadY(88.5),
          grid: { display: false, drawTicks: false },
          border: { display: true, color: AXIS, width: 1 },
          ticks: { color: "#000", font: { family: FONT, size: 14.5, lineHeight: 0.72 }, padding: 5, autoSkip: false, callback: (v: any) => labelFor(v, lo, hi, inset) },
        },
      },
    },
    plugins: [inTicks],
  };
}

function emgConfig(values: (number | null)[], lim: number, showLabels: boolean, axisW: number) {
  const n = values.length - 1;
  return {
    type: "line",
    data: {
      datasets: [{
        data: values.map((v, i) => ({ x: i / n, y: v })),
        borderColor: "#151515", borderWidth: 1, pointRadius: 0, tension: 0, spanGaps: false,
        fill: "origin", backgroundColor: "rgba(0,0,0,0.82)",
      }],
    },
    options: {
      animation: false, responsive: false, events: [],
      layout: { padding: { top: 5, right: 4, bottom: 5, left: 0 } },
      plugins: { legend: { display: false }, tooltip: { enabled: false }, inTicks: { y: 3 } },
      scales: {
        x: { type: "linear", min: 0, max: 1, display: false },
        y: {
          type: "linear", min: -lim, max: lim,
          afterBuildTicks: (s: any) => { s.ticks = [-lim, lim].map((v) => ({ value: v })); },
          afterFit: noPadY(axisW),
          grid: { display: false, drawTicks: false },
          border: { display: true, color: AXIS, width: 1 },
          ticks: {
            display: showLabels, color: "#000", font: { family: FONT, size: 14.5, lineHeight: 0.72 }, padding: 5,
            autoSkip: false, callback: (v: any) => labelFor(v, -lim, lim, true),
          },
        },
      },
    },
    plugins: [inTicks],
  };
}

function gaitConfig() {
  const total = GAIT_PHASES.reduce((a, b) => a + b, 0);
  return {
    type: "bar",
    data: {
      labels: ["gait"],
      datasets: GAIT_PHASES.map((p, i) => {
        const swing = GAIT_LABELS[i] === "swing";
        return {
          data: [p],
          backgroundColor: swing ? "#1c1c1c" : "#ffffff",
          borderColor: AXIS,
          borderWidth: swing ? 0 : { top: 1, bottom: 1, left: i === 0 ? 1 : 0, right: 0 },
          borderSkipped: false,
          barPercentage: 1, categoryPercentage: 1,
        };
      }),
    },
    options: {
      indexAxis: "y", animation: false, responsive: false, events: [],
      layout: { padding: 0 },
      plugins: { legend: { display: false }, tooltip: { enabled: false } },
      scales: {
        x: { stacked: true, display: false, min: 0, max: total },
        y: { stacked: true, display: false },
      },
    },
  };
}

function ChartBox({ left, top, width, height, make }: { left: number; top: number; width: number; height: number; make: () => any }) {
  const ref = useRef<HTMLCanvasElement>(null);
  useEffect(() => {
    const chart = new Chart(ref.current as HTMLCanvasElement, make());
    return () => chart.destroy();
  }, []);
  return (
    <div style={{ position: "absolute", left, top, width, height }}>
      <canvas ref={ref} width={width} height={height} style={{ width, height, display: "block" }} />
    </div>
  );
}

function Txt({ x, y, size, children, w, align }: any) {
  return (
    <div style={{
      position: "absolute", left: x, top: y, fontSize: size, lineHeight: 1, whiteSpace: "nowrap",
      fontFamily: FONT, color: "#111", width: w, textAlign: align,
    }}>{children}</div>
  );
}

function Unit({ cx, cy }: { cx: number; cy: number }) {
  return (
    <div style={{
      position: "absolute", left: cx, top: cy, fontSize: 14.5, lineHeight: 1, whiteSpace: "nowrap",
      fontFamily: FONT, color: "#111", transform: "translate(-50%, -50%) rotate(-90deg)",
    }}>[µV]</div>
  );
}

function Panel({ p, last }: { p: any; last: boolean }) {
  const items: any[] = [];
  items.push(<Txt key="l" x={12} y={p.titleTop} size={30}>{p.letter}</Txt>);
  items.push(<Txt key="t" x={96} y={p.titleTop} size={30}>{p.title}</Txt>);
  items.push(<Txt key="s" x={96} y={p.spinalTop} size={18}>Spinal reflex</Txt>);
  items.push(
    <ChartBox key="rf" left={0} top={p.reflexTop - 10} width={804} height={p.reflexH + 38}
      make={() => reflexConfig(p.reflex, p.reflexTicks, p.reflexInset)} />
  );
  items.push(<Unit key="ru" cx={40} cy={p.reflexTop + p.reflexH / 2} />);
  items.push(<Txt key="lo" x={96} y={p.locoTop} size={19}>Locomotor activity after 2 min</Txt>);
  items.push(<Txt key="l10" x={457} y={p.locoTop} size={19}>after 10 min</Txt>);
  p.rows.forEach((rt: number, k: number) => {
    items.push(
      <ChartBox key={"el" + k} left={0} top={rt - 5} width={446} height={ROW_H + 10}
        make={() => emgConfig(p.left[k], p.limits[k], true, 88.3)} />
    );
    items.push(
      <ChartBox key={"er" + k} left={400} top={rt - 5} width={410} height={ROW_H + 10}
        make={() => emgConfig(p.right[k], p.limits[k], false, 52.3)} />
    );
    items.push(<Txt key={"m" + k} x={773} y={rt + MUSCLE_DY[k] - 8.5} size={17}>{MUSCLES[k]}</Txt>);
  });
  items.push(<Unit key="eu" cx={37.5} cy={p.emgUnitY} />);
  items.push(<ChartBox key="gl" left={88} top={p.gaitTop} width={354} height={7} make={gaitConfig} />);
  items.push(<ChartBox key="gr" left={452} top={p.gaitTop} width={354} height={7} make={gaitConfig} />);
  if (last) {
    items.push(<Txt key="st" x={87} y={1472} size={15}>stance</Txt>);
    items.push(<Txt key="sw" x={140} y={1472} size={15}>swing</Txt>);
    items.push(<Txt key="g1" x={88} y={1487} size={19} w={354} align="center">gait cycle</Txt>);
    items.push(<Txt key="g2" x={452} y={1487} size={19} w={354} align="center">gait cycle</Txt>);
  }
  return <>{items}</>;
}

export default function App() {
  return (
    <div style={{ position: "absolute", left: 0, top: 0, width: 804, height: 1511, overflow: "hidden", background: "#fff" }}>
      {PANELS.map((p, i) => <Panel key={p.letter} p={p} last={i === PANELS.length - 1} />)}
    </div>
  );
}
